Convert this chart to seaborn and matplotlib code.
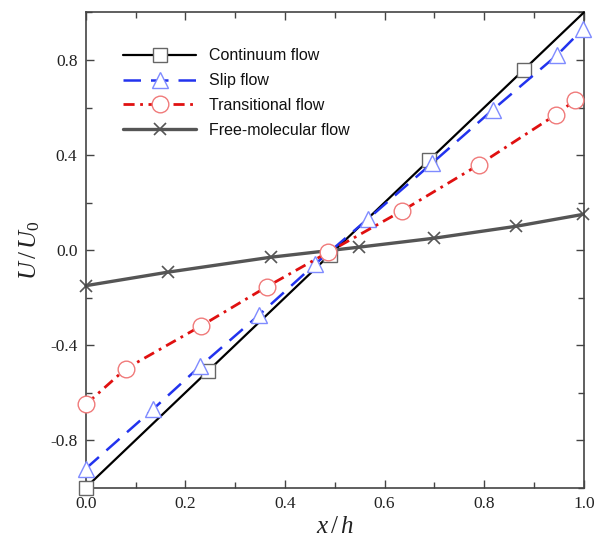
import numpy as np
import pandas as pd
import seaborn as sns
import matplotlib
matplotlib.use("Agg")
import matplotlib.pyplot as plt
from matplotlib.ticker import MultipleLocator

# ---- data ----
cont_x = [0.0, 0.245, 0.49, 0.69, 0.88, 1.0]
cont_y = [-1.0, -0.51, -0.02, 0.38, 0.76, 1.0]

slip_x = [0.0, 0.135, 0.229, 0.347, 0.46, 0.566, 0.695, 0.817, 0.946, 0.998]
slip_y = [-0.92, -0.67, -0.49, -0.275, -0.06, 0.13, 0.365, 0.59, 0.82, 0.93]

trans_x = [0.0, 0.08, 0.231, 0.363, 0.486, 0.635, 0.79, 0.944, 0.982]
trans_y = [-0.65, -0.50, -0.32, -0.155, -0.01, 0.165, 0.36, 0.57, 0.63]

free_x = [0.0, 0.165, 0.372, 0.548, 0.70, 0.864, 0.998]
free_y = [-0.15, -0.093, -0.03, 0.012, 0.05, 0.10, 0.15]

labels = ["Continuum flow", "Slip flow", "Transitional flow", "Free-molecular flow"]
x_ticks = [0.0, 0.2, 0.4, 0.6, 0.8, 1.0]
y_ticks = [-0.8, -0.4, 0.0, 0.4, 0.8]

sns.set_theme(style="white")
plt.rcParams['font.family'] = ['Liberation Serif', 'DejaVu Serif']
plt.rcParams['mathtext.fontset'] = 'custom'
plt.rcParams['mathtext.rm'] = 'Liberation Serif'
plt.rcParams['mathtext.it'] = 'Liberation Serif:italic'

fig = plt.figure(figsize=(6.0, 5.43), dpi=100)
ax = fig.add_axes([0.143, 0.102, 0.830, 0.875])

sns.lineplot(x=cont_x, y=cont_y, ax=ax, color="black", lw=1.6,
             marker="s", markersize=10, markerfacecolor="white",
             markeredgecolor="#666666", markeredgewidth=1.0,
             markevery=[0, 1, 2, 3, 4], label=labels[0], clip_on=False,
             zorder=3)
sns.lineplot(x=slip_x, y=slip_y, ax=ax, color="#2233ee", lw=1.8,
             linestyle=(0, (7, 4)),
             marker="^", markersize=11, markerfacecolor="white",
             markeredgecolor="#7f8bff", markeredgewidth=1.0,
             label=labels[1], clip_on=False, zorder=4)
sns.lineplot(x=trans_x, y=trans_y, ax=ax, color="#e01010", lw=2.0,
             linestyle=(0, (4, 2, 1, 2)),
             marker="o", markersize=12, markerfacecolor="white",
             markeredgecolor="#f07a7a", markeredgewidth=1.0,
             label=labels[2], clip_on=False, zorder=5)
sns.lineplot(x=free_x, y=free_y, ax=ax, color="#555555", lw=2.4,
             marker="x", markersize=9, markeredgecolor="#555555",
             markeredgewidth=1.2,
             label=labels[3], clip_on=False, zorder=2)

ax.set_xlim(0, 1)
ax.set_ylim(-1, 1)
ax.set_xticks(x_ticks)
ax.set_yticks(y_ticks)
ax.set_xticklabels([f"{v:.1f}" for v in x_ticks])
ax.set_yticklabels([f"{v:.1f}" for v in y_ticks])
ax.xaxis.set_minor_locator(MultipleLocator(0.1))
ax.yaxis.set_minor_locator(MultipleLocator(0.2))
ax.tick_params(which="both", direction="in", top=True, right=True,
               bottom=True, left=True, color="#444444", labelsize=12.5,
               labelcolor="#222222", width=1.0)
ax.tick_params(which="major", length=6, pad=6)
ax.tick_params(which="minor", length=4)
for sp in ax.spines.values():
    sp.set_color("#444444")
    sp.set_linewidth(1.2)

ax.set_xlabel(r"$x\,/\,h$", fontsize=18, color="#222222", labelpad=3)
ax.set_ylabel(r"$U\,/\,U_0$", fontsize=18, color="#222222", labelpad=6)

leg = ax.legend(loc="upper left", bbox_to_anchor=(0.055, 0.945), frameon=False,
                prop={"family": "Liberation Sans", "size": 11.5},
                handlelength=4.6, handletextpad=0.8, labelspacing=0.62,
                borderaxespad=0.2)
for t in leg.get_texts():
    t.set_color("#111111")

fig.savefig("out.png", dpi=100)
